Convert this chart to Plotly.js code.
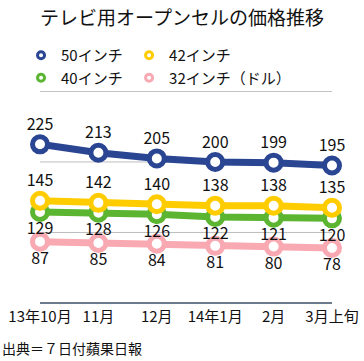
<!DOCTYPE html>
<html><head><meta charset="utf-8">
<script src="https://cdn.plot.ly/plotly-3.0.1.min.js"></script>
<style>html,body{margin:0;padding:0;background:#fff}#c{width:364px;height:361px}</style>
</head><body><div id="c"></div>
<script>
const categories = ["13年10月","11月","12月","14年1月","2月","3月上旬"];
const names = ["50インチ","42インチ","40インチ","32インチ（ドル）"];
const v50 = [225,213,205,200,199,195];
const v42 = [145,142,140,138,138,135];
const v40 = [129,128,126,122,121,120];
const v32 = [87,85,84,81,80,78];
const gridVals = [100, 200, 300];
const colors = ["#2a4592","#ffcc00","#5cb531","#f8a9b1"];
const series = [v50, v42, v40, v32];
const textPos = ["top center","top center","bottom center","bottom center"];
const legendOf = ["legend","legend2","legend","legend2"];
const FONT = "'Noto Sans CJK JP', 'Noto Sans', sans-serif";
const xIdx = categories.map((_, i) => i);

const traces = [];
// draw order: pink, green, yellow, blue
[3,2,1,0].forEach(i => {
  traces.push({
    x: xIdx, y: series[i], type: "scatter", mode: "lines+markers+text",
    text: series[i].map(String), textposition: textPos[i],
    textfont: {family: FONT, size: 16, color: "#111"},
    line: {color: colors[i], width: 7},
    marker: {size: 15, color: "#fff", line: {color: colors[i], width: 5}},
    cliponaxis: false, showlegend: false, hoverinfo: "skip"
  });
});
[0,1,2,3].forEach(i => {
  traces.push({
    x: [null], y: [null], type: "scatter", mode: "markers", name: names[i],
    legend: legendOf[i],
    marker: {size: 7, color: "#fff", line: {color: colors[i], width: 3}},
    showlegend: true
  });
});

const legendBase = {
  orientation: "v", xanchor: "left", yanchor: "top", y: 1.245,
  traceorder: "normal", itemwidth: 30, tracegroupgap: 0,
  font: {family: FONT, size: 15, color: "#111"}, bgcolor: "rgba(0,0,0,0)"
};

const layout = {
  width: 364, height: 361,
  margin: {l: 40, r: 32, t: 91, b: 58},
  paper_bgcolor: "#fff", plot_bgcolor: "#fff",
  font: {family: FONT, color: "#111"},
  title: {text: "テレビ用オープンセルの価格推移", font: {family: FONT, size: 19, color: "#111"},
          x: 0.5, xanchor: "center", y: 0.95, yanchor: "middle"},
  showlegend: true,
  legend: Object.assign({}, legendBase, {x: -0.065}),
  legend2: Object.assign({}, legendBase, {x: 0.305}),
  xaxis: {range: [0, 5], tickmode: "array", tickvals: xIdx, ticktext: categories,
          showgrid: false, zeroline: false, showline: false, ticks: "",
          ticklabelstandoff: 3,
          tickfont: {family: FONT, size: 15, color: "#111"}, fixedrange: true},
  yaxis: {range: [0, 300.6], tickmode: "array", tickvals: [0].concat(gridVals),
          showticklabels: false, showgrid: false,
          zeroline: true, zerolinecolor: "#6b7b8c",
          zerolinewidth: 1.5, showline: false, ticks: "", fixedrange: true},
  shapes: gridVals.map(v => ({type: "line", xref: "paper", yref: "y", x0: 0, x1: 1,
                              y0: v, y1: v, layer: "below",
                              line: {color: "#bdbdbd", width: 1}})),
  annotations: [{text: "出典＝７日付蘋果日報", xref: "paper", yref: "paper",
                 x: -40/292, xanchor: "left", y: -45/212, yanchor: "middle",
                 showarrow: false, font: {family: FONT, size: 14, color: "#111"}}]
};
Plotly.newPlot("c", traces, layout, {displayModeBar: false, staticPlot: true});
</script></body></html>
